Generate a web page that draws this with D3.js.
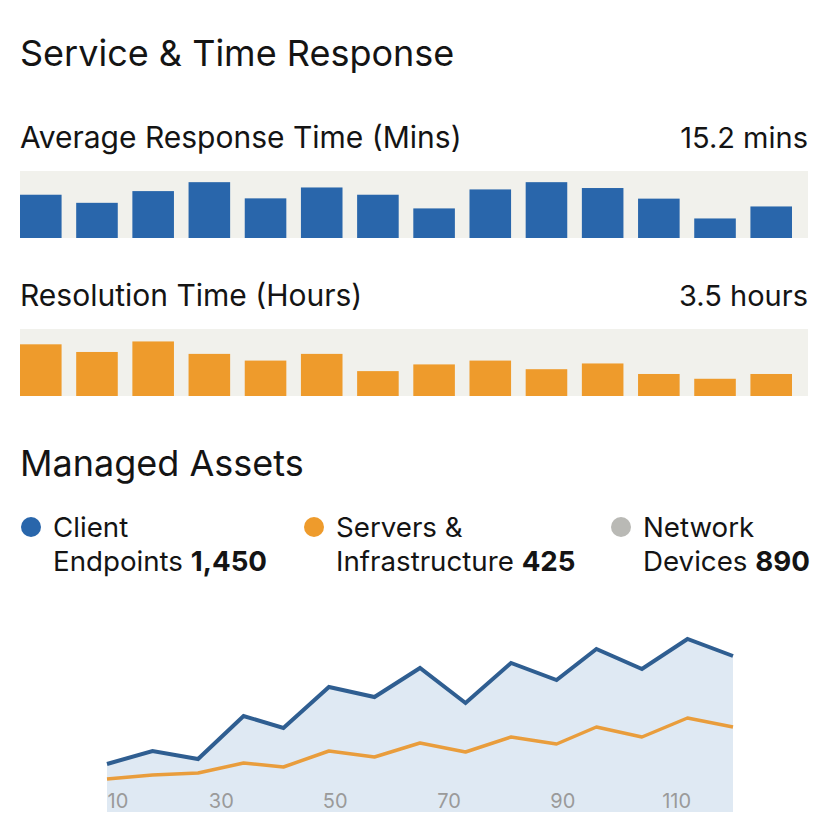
<!DOCTYPE html>
<html>
<head>
<meta charset="utf-8">
<script src="https://cdn.jsdelivr.net/npm/d3@7"></script>
<style>
  body { margin: 0; background: #fff; }
  text { font-family: Inter, "Open Sans", sans-serif; fill: #141414; }
</style>
</head>
<body>
<div id="chart"></div>
<script>
// bar charts: one bar per period
var periods = ["P1","P2","P3","P4","P5","P6","P7","P8","P9","P10","P11","P12","P13","P14"];
var responseMins = [15.5, 12.6, 16.8, 20.0, 14.2, 18.1, 15.5, 10.6, 17.4, 20.0, 17.9, 14.1, 7.0, 11.3];
var resolutionHours = [5.4, 4.6, 5.7, 4.4, 3.7, 4.4, 2.6, 3.3, 3.7, 2.8, 3.4, 2.3, 1.8, 2.3];

// managed assets trend
var assetX = [10, 18, 26, 34, 41, 49, 57, 65, 73, 81, 89, 96, 104, 112, 120];
var clientSeries = [48, 61, 53, 96, 84, 125, 115, 144, 109, 149, 132, 163, 143, 173, 156];
var serverSeries = [33, 37, 39, 49, 45, 61, 55, 69, 60, 75, 68, 85, 75, 94, 85];
var xTicks = [10, 30, 50, 70, 90, 110];

var legendNames = [["Client", "Endpoints"], ["Servers &", "Infrastructure"], ["Network", "Devices"]];
var legendValues = ["1,450", "425", "890"];

var width = 822, height = 830;
var blue = "#2966ab", orange = "#ee9b2c", grey = "#b9b9b5";

var svg = d3.select("#chart").append("svg")
  .attr("width", width)
  .attr("height", height);

svg.append("text")
  .attr("x", 20).attr("y", 66)
  .attr("font-size", 36)
  .text("Service & Time Response");

function barPanel(top, label, summary, values, maxValue, color) {
  // header line
  svg.append("text")
    .attr("x", 20).attr("y", top - 23)
    .attr("font-size", 30)
    .text(label);
  svg.append("text")
    .attr("x", 808).attr("y", top - 23)
    .attr("text-anchor", "end")
    .attr("font-size", 29)
    .text(summary);

  var bandH = 67;
  svg.append("rect")
    .attr("x", 20).attr("y", top)
    .attr("width", 788).attr("height", bandH)
    .attr("fill", "#f1f1ec");

  var x = d3.scaleBand()
    .domain(periods)
    .range([20, 792])
    .paddingInner(0.26)
    .paddingOuter(0);
  var y = d3.scaleLinear()
    .domain([0, maxValue])
    .range([top + bandH, top]);

  svg.append("g").selectAll("rect")
    .data(values)
    .enter()
    .append("rect")
    .attr("x", function(d, i){ return x(periods[i]); })
    .attr("y", function(d){ return y(d); })
    .attr("width", x.bandwidth())
    .attr("height", function(d){ return y(0) - y(d); })
    .attr("fill", color);
}

barPanel(171, "Average Response Time (Mins)", "15.2 mins", responseMins, 24, blue);
barPanel(329, "Resolution Time (Hours)", "3.5 hours", resolutionHours, 7, orange);

svg.append("text")
  .attr("x", 20).attr("y", 476)
  .attr("font-size", 36)
  .text("Managed Assets");

// legend
var legendX = [20, 303, 610];
var legendColors = [blue, orange, grey];
legendNames.forEach(function(n, i){
  var g = svg.append("g").attr("transform", "translate(" + legendX[i] + ",0)");
  g.append("circle")
    .attr("cx", 11).attr("cy", 527)
    .attr("r", 10)
    .attr("fill", legendColors[i]);
  g.append("text")
    .attr("x", 33).attr("y", 537)
    .attr("font-size", 27.7)
    .text(n[0]);
  var t = g.append("text")
    .attr("x", 33).attr("y", 571)
    .attr("font-size", 27.7);
  t.append("tspan").text(n[1] + " ");
  t.append("tspan").attr("font-weight", "bold").text(legendValues[i]);
});

// area chart
var x = d3.scaleLinear().domain([10, 120]).range([107, 733]);
var y = d3.scaleLinear().domain([0, 200]).range([812, 612]);

var area = d3.area()
  .x(function(d, i){ return x(assetX[i]); })
  .y0(y(0))
  .y1(function(d){ return y(d); });

var line = d3.line()
  .x(function(d, i){ return x(assetX[i]); })
  .y(function(d){ return y(d); });

svg.append("path")
  .datum(clientSeries)
  .attr("d", area)
  .attr("fill", "#dfe9f3");

var axis = svg.append("g")
  .attr("transform", "translate(0,794)")
  .call(d3.axisBottom(x).tickValues(xTicks).tickSize(0).tickPadding(0));
axis.select(".domain").remove();
axis.selectAll("text")
  .attr("font-size", 20)
  .style("font-family", "Inter, sans-serif")
  .style("fill", "#9a9a9a")
  .attr("text-anchor", function(d, i){ return i == 0 ? "start" : "middle"; });

svg.append("path")
  .datum(serverSeries)
  .attr("d", line)
  .attr("fill", "none")
  .attr("stroke", "#e99d3c")
  .attr("stroke-width", 3.5)
  .attr("stroke-linejoin", "round");

svg.append("path")
  .datum(clientSeries)
  .attr("d", line)
  .attr("fill", "none")
  .attr("stroke", "#2f5e91")
  .attr("stroke-width", 4)
  .attr("stroke-linejoin", "miter");
</script>
</body>
</html>
